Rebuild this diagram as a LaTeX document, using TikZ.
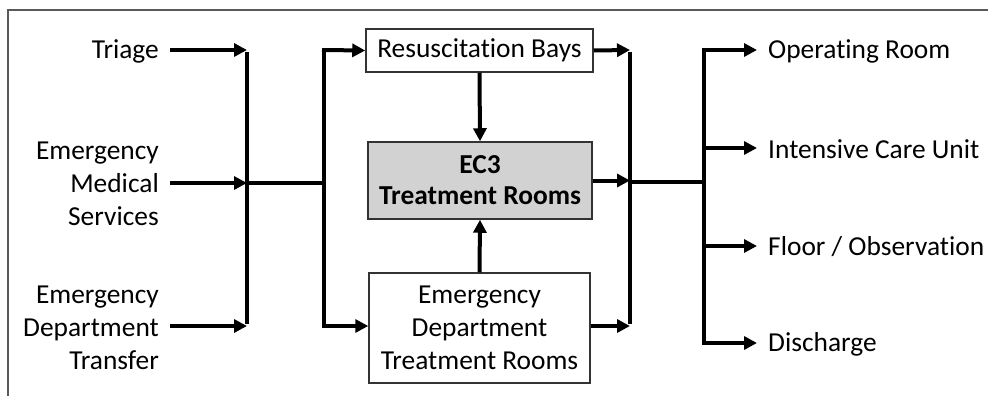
\documentclass[tikz,border=0pt]{standalone}
\usepackage{fontspec}
\setmainfont{Carlito}[Ligatures=CommonOff]
\usetikzlibrary{arrows.meta}
\definecolor{framegray}{HTML}{5A5A5A}
\definecolor{boxgray}{HTML}{D2D2D2}
\definecolor{edgegray}{HTML}{333333}
\begin{document}
\begin{tikzpicture}[x=1pt,y=-1pt,
  lbl/.style={font=\fontsize{27.4}{33}\selectfont, inner sep=0pt},
  boxnode/.style={draw=edgegray, line width=1.5pt, font=\fontsize{27.4}{33}\selectfont, align=center, inner sep=0pt},
  arr/.style={line width=4pt, -{Triangle[length=13pt,width=13pt]}},
  wire/.style={line width=4pt}
]
\useasboundingbox (0,0) rectangle (988,396);
\fill[white] (0,0) rectangle (988,396);
% frame (partly visible)
\draw[framegray, line width=2pt] (8,400) -- (8,10) -- (992,10);

% left labels
\node[lbl, anchor=east, align=right] (triage) at (159,51) {Triage};
\node[lbl, anchor=east, align=right] (ems) at (159,184) {Emergency\\Medical\\Services};
\node[lbl, anchor=east, align=right] (edt) at (159,328) {Emergency\\Department\\Transfer};

% boxes
\node[boxnode, minimum width=227pt, minimum height=43pt] (resus) at (479.5,50.5) {Resuscitation Bays};
\node[boxnode, fill=boxgray, minimum width=224pt, minimum height=77pt, font=\fontsize{27.4}{31}\selectfont\bfseries] (ec3) at (480,180.5) {EC3\\Treatment Rooms};
\node[boxnode, minimum width=221pt, minimum height=110pt] (ed) at (479.5,328) {Emergency\\Department\\Treatment Rooms};

% right labels
\node[lbl, anchor=west] (or) at (768,51) {Operating Room};
\node[lbl, anchor=west] (icu) at (768,149) {Intensive Care Unit};
\node[lbl, anchor=west] (floor) at (768,247) {Floor / Observation};
\node[lbl, anchor=west] (dis) at (768,344) {Discharge};

% junction coordinates
\coordinate (a1) at (247,50);
\coordinate (a2) at (247,183);
\coordinate (a3) at (247,326);
\coordinate (b1) at (324,50);
\coordinate (b2) at (324,183);
\coordinate (b3) at (324,326);
\coordinate (c1) at (630,50);
\coordinate (c2) at (630,182);
\coordinate (c3) at (630,326);
\coordinate (d1) at (704,50);
\coordinate (d2) at (704,148);
\coordinate (d0) at (704,182);
\coordinate (d3) at (704,246);
\coordinate (d4) at (704,343);

% inputs
\draw[arr] ([xshift=11pt]triage.east |- a1) -- (a1);
\draw[arr] ([xshift=11pt]ems.east |- a2) -- (a2);
\draw[arr] ([xshift=11pt]edt.east |- a3) -- (a3);
\draw[wire] ([yshift=-2pt]a1) -- ([yshift=2pt]a3);
\draw[wire] (a2) -- (b2);
\draw[wire] ([yshift=2pt]b3) -- (b1) -- ([xshift=-1pt]b1);
\draw[arr] ([xshift=-2pt]b1) -- (resus.west);
\draw[arr] ([xshift=-2pt]b3) -- (b3 -| ed.west);

% vertical flows into EC3
\draw[arr] (resus.south) -- (ec3.north);
\draw[arr] (ed.north) -- (ec3.south);

% outputs
\draw[arr] (resus.east) -- (c1);
\draw[arr] (ec3.east) -- (ec3.east -| c1);
\draw[arr] (ed.east |- c3) -- (c3);
\draw[wire] ([yshift=-2pt]c1) -- ([yshift=2pt]c3);
\draw[wire] (c2) -- (d0);
\draw[wire] ([yshift=2pt]d4) -- (d1);
\draw[arr] ([xshift=-2pt]d1) -- ([xshift=-11pt]or.west |- d1);
\draw[arr] (d2) -- ([xshift=-11pt]icu.west |- d2);
\draw[arr] (d3) -- ([xshift=-11pt]floor.west |- d3);
\draw[arr] ([xshift=-2pt]d4) -- ([xshift=-11pt]dis.west |- d4);
\end{tikzpicture}
\end{document}
